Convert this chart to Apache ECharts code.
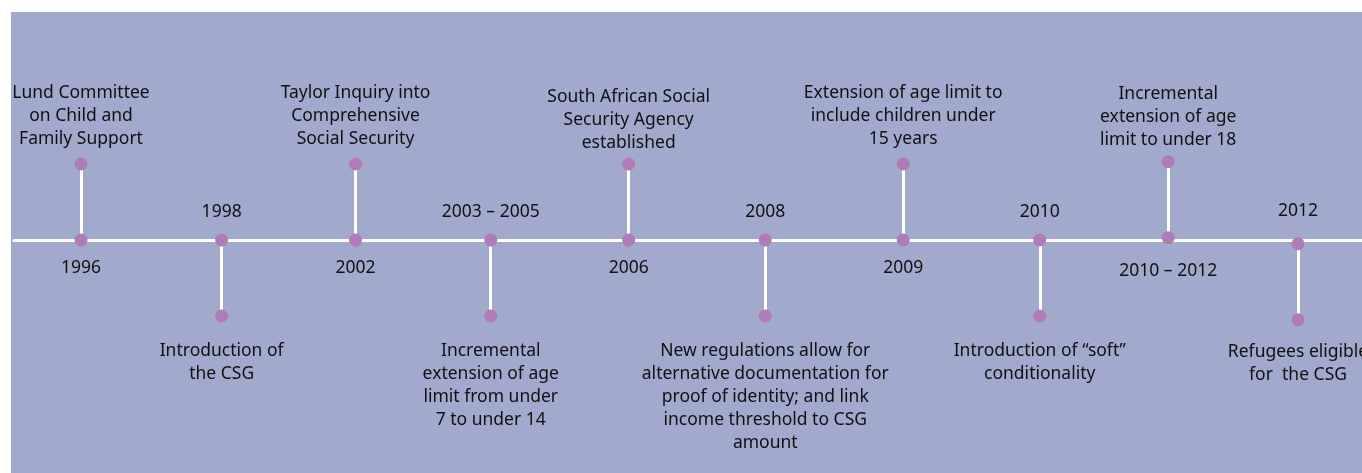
<!DOCTYPE html>
<html>
<head>
<meta charset="utf-8">
<script src="https://cdn.jsdelivr.net/npm/echarts@6/dist/echarts.min.js"></script>
<style>
  html, body { margin: 0; padding: 0; background: #fff; }
  #timeline { width: 1362px; height: 473px; }
</style>
</head>
<body>
<div id="timeline"></div>
<script>
  // position of each event along the line (slot units)
  var slots = [0, 1.04, 2.03, 3.03, 4.05, 5.06, 6.08, 7.09, 8.04, 9];
  var years = ['1996', '1998', '2002', '2003 – 2005', '2006', '2008', '2009', '2010', '2010 – 2012', '2012'];
  // 1 = stem goes up, -1 = stem goes down
  var sides = [1, -1, 1, -1, 1, -1, 1, -1, 1, -1];
  // small drift of the line dot off the baseline
  var baseY = [0, 0, 0, 0, 0, 0, 0, 0, 0.03, -0.05];
  var events = [
    'Lund Committee\non Child and\nFamily Support',
    'Introduction of\nthe CSG',
    'Taylor Inquiry into\nComprehensive\nSocial Security',
    'Incremental\nextension of age\nlimit from under\n7 to under 14',
    'South African Social\nSecurity Agency\nestablished',
    'New regulations allow for\nalternative documentation for\nproof of identity; and link\nincome threshold to CSG\namount',
    'Extension of age limit to\ninclude children under\n15 years',
    'Introduction of “soft”\nconditionality',
    'Incremental\nextension of age\nlimit to under 18',
    'Refugees eligible\nfor  the CSG'
  ];

  var chart = echarts.init(document.getElementById('timeline'));
  var dotColor = '#b07bb7';
  var font = { fontFamily: 'Noto Sans', fontSize: 17.5, color: '#111', lineHeight: 23 };

  var baseData = slots.map(function (x, i) {
    var d = 10;
    if (i === 8) d = 15;
    if (i === 9) d = 15;
    return {
      value: [x, baseY[i]],
      label: Object.assign({ show: true, formatter: years[i],
        position: sides[i] > 0 ? 'bottom' : 'top', distance: d }, font)
    };
  });
  var endData = slots.map(function (x, i) {
    var d = sides[i] > 0 ? 7 : 17;
    if (i === 4) d = 3;
    if (i === 8) d = 4;
    if (i === 9) d = 14;
    return {
      value: [x, baseY[i] + sides[i]],
      label: Object.assign({ show: true, formatter: events[i],
        position: sides[i] > 0 ? 'top' : 'bottom', distance: d }, font)
    };
  });
  var stems = slots.map(function (x, i) {
    return [{ coord: [x, baseY[i]] }, { coord: [x, baseY[i] + sides[i]] }];
  });

  var option = {
    backgroundColor: '#fff',
    animation: false,
    graphic: [{
      type: 'rect', z: -10,
      shape: { x: 11, y: 12, width: 1351, height: 461 },
      style: { fill: '#a1a9cd' }
    }],
    grid: { left: 14, right: 0, top: 88, bottom: 81 },
    xAxis: {
      type: 'value', min: -0.4955, max: 9.473,
      axisLine: { show: true, onZero: true, lineStyle: { color: '#fff', width: 3 } },
      axisTick: { show: false }, axisLabel: { show: false }, splitLine: { show: false }
    },
    yAxis: {
      type: 'value', min: -2, max: 2, show: false
    },
    series: [
      {
        type: 'scatter', data: endData, symbolSize: 13, z: 5,
        itemStyle: { color: dotColor, opacity: 1 },
        markLine: {
          silent: true, symbol: 'none', label: { show: false },
          lineStyle: { color: '#fff', width: 3, type: 'solid', opacity: 1 },
          data: stems
        }
      },
      {
        type: 'scatter', data: baseData, symbolSize: 13, z: 6,
        itemStyle: { color: dotColor, opacity: 1 }
      }
    ]
  };
  chart.setOption(option);
</script>
</body>
</html>
